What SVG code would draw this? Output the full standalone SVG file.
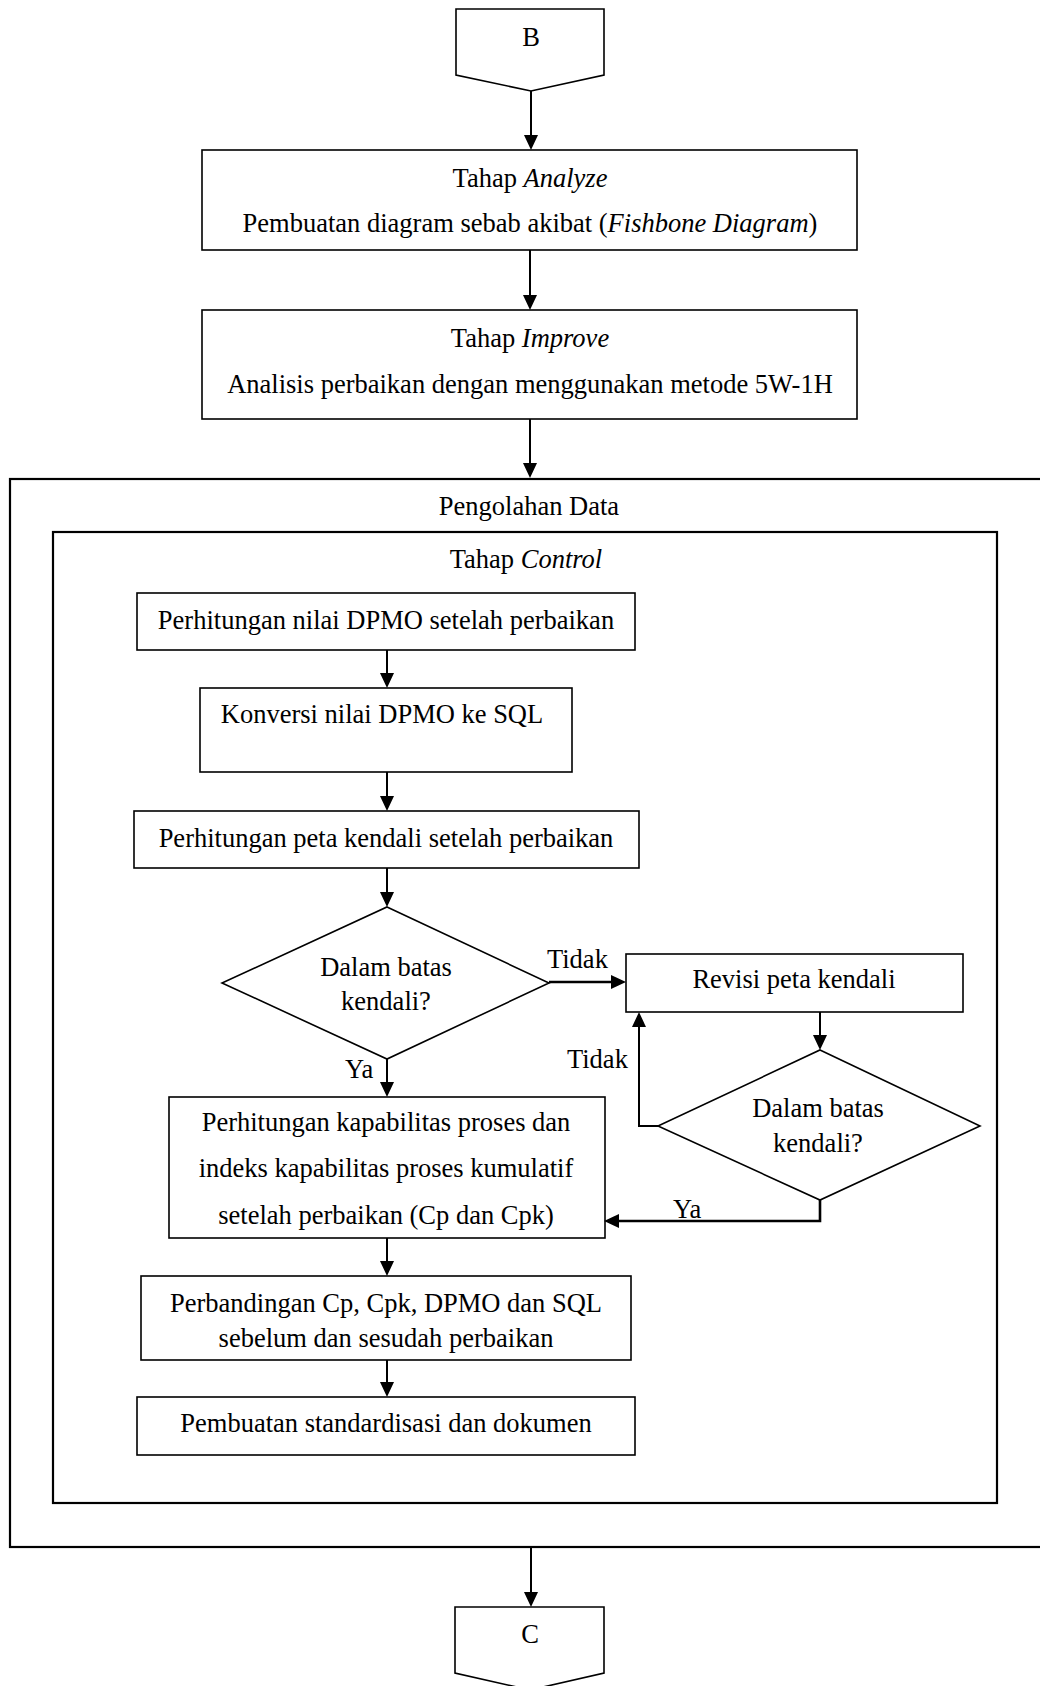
<svg xmlns="http://www.w3.org/2000/svg" width="1040" height="1686" viewBox="0 0 1040 1686">
  <style>
    text { font-family: "Liberation Serif", "Times New Roman", serif; font-size: 26.5px; fill: #000; text-anchor: middle; }
    .lbl { text-anchor: start; }
    .it { font-style: italic; }
    .node { fill: #fff; stroke: #000; stroke-width: 1.6; }
    .frame { fill: none; stroke: #000; stroke-width: 2.2; }
    .link { fill: none; stroke: #000; stroke-width: 2; marker-end: url(#arrow); }
    .bold { stroke-width: 2.6; }
  </style>
  <defs>
    <marker id="arrow" viewBox="0 0 15 14" refX="3" refY="7" markerWidth="15" markerHeight="14" markerUnits="userSpaceOnUse" orient="auto">
      <path d="M0,0 L15,7 L0,14 z" fill="#000"/>
    </marker>
  </defs>

  <!-- containers -->
  <g id="pengolahan-data">
    <rect class="frame" x="10" y="479" width="1045" height="1068"/>
    <text x="529" y="515">Pengolahan Data</text>
  </g>
  <g id="tahap-control">
    <rect class="frame" x="53" y="532" width="944" height="971"/>
    <text x="526" y="568">Tahap <tspan class="it">Control</tspan></text>
  </g>

  <!-- off-page connectors -->
  <g id="conn-b">
    <path class="node" d="M456,9 H604 V75 L531,91 L456,75 Z"/>
    <text x="531" y="46">B</text>
  </g>
  <g id="conn-c">
    <path class="node" d="M455,1607 H604 V1673 L530,1690 L455,1673 Z"/>
    <text x="530" y="1643">C</text>
  </g>

  <!-- process boxes -->
  <g id="analyze">
    <rect class="node" x="202" y="150" width="655" height="100"/>
    <text x="530" y="187">Tahap <tspan class="it">Analyze</tspan></text>
    <text x="530" y="232">Pembuatan diagram sebab akibat (<tspan class="it">Fishbone Diagram</tspan>)</text>
  </g>
  <g id="improve">
    <rect class="node" x="202" y="310" width="655" height="109"/>
    <text x="530" y="347">Tahap <tspan class="it">Improve</tspan></text>
    <text x="530" y="393">Analisis perbaikan dengan menggunakan metode 5W-1H</text>
  </g>
  <g id="dpmo">
    <rect class="node" x="137" y="593" width="498" height="57"/>
    <text x="386" y="629">Perhitungan nilai DPMO setelah perbaikan</text>
  </g>
  <g id="konversi">
    <rect class="node" x="200" y="688" width="372" height="84"/>
    <text x="382" y="723">Konversi nilai DPMO ke SQL</text>
  </g>
  <g id="peta-kendali">
    <rect class="node" x="134" y="811" width="505" height="57"/>
    <text x="386" y="847">Perhitungan peta kendali setelah perbaikan</text>
  </g>
  <g id="cek-batas-1">
    <path class="node" d="M387,907 L549,983 L387,1059 L222,983 Z"/>
    <text x="386" y="976">Dalam batas</text>
    <text x="386" y="1010">kendali?</text>
  </g>
  <g id="revisi">
    <rect class="node" x="626" y="954" width="337" height="58"/>
    <text x="794" y="988">Revisi peta kendali</text>
  </g>
  <g id="cek-batas-2">
    <path class="node" d="M820,1050 L980,1126 L820,1200 L658,1126 Z"/>
    <text x="818" y="1117">Dalam batas</text>
    <text x="818" y="1152">kendali?</text>
  </g>
  <g id="kapabilitas">
    <rect class="node" x="169" y="1097" width="436" height="141"/>
    <text x="386" y="1131">Perhitungan kapabilitas proses dan</text>
    <text x="386" y="1177">indeks kapabilitas proses kumulatif</text>
    <text x="386" y="1224">setelah perbaikan (Cp dan Cpk)</text>
  </g>
  <g id="perbandingan">
    <rect class="node" x="141" y="1276" width="490" height="84"/>
    <text x="386" y="1312">Perbandingan Cp, Cpk, DPMO dan SQL</text>
    <text x="386" y="1347">sebelum dan sesudah perbaikan</text>
  </g>
  <g id="standardisasi">
    <rect class="node" x="137" y="1397" width="498" height="58"/>
    <text x="386" y="1432">Pembuatan standardisasi dan dokumen</text>
  </g>

  <!-- connectors -->
  <g id="connectors">
    <path class="link" d="M531,91 V138"/>
    <path class="link" d="M530,250 V298"/>
    <path class="link" d="M530,419 V466"/>
    <path class="link" d="M387,650 V676"/>
    <path class="link" d="M387,772 V799"/>
    <path class="link" d="M387,868 V895"/>
    <path class="link bold" d="M549,982 H614"/>
    <path class="link" d="M820,1012 V1038"/>
    <path class="link" d="M658,1126 H639 V1024"/>
    <path class="link bold" d="M820,1200 V1221 H616"/>
    <path class="link" d="M387,1059 V1085"/>
    <path class="link" d="M387,1238 V1264"/>
    <path class="link" d="M387,1360 V1385"/>
    <path class="link" d="M531,1547 V1595"/>
    <text class="lbl" x="547" y="968">Tidak</text>
    <text class="lbl" x="567" y="1068">Tidak</text>
    <text class="lbl" x="345" y="1078">Ya</text>
    <text class="lbl" x="673" y="1218">Ya</text>
  </g>
</svg>
